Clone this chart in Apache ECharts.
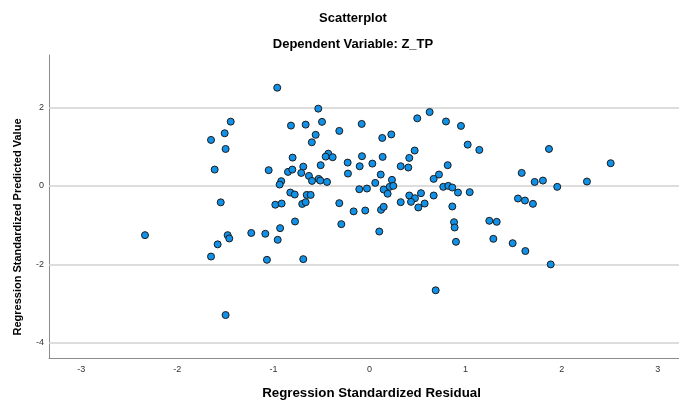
<!DOCTYPE html>
<html>
<head>
<meta charset="utf-8">
<script src="https://cdn.jsdelivr.net/npm/echarts@6/dist/echarts.min.js"></script>
<style>
html,body{margin:0;padding:0;background:#fff;}
#chart{width:679px;height:401px;}
</style>
</head>
<body>
<div id="chart"></div>
<script>
// Regression Standardized Residual (x) and Predicted Value (y)
const residuals = [
  -0.96,-1.444,-1.507,-1.649,-1.497,-1.611,-1.049,-1.548,-0.98,
  -0.533,-0.817,-0.664,-0.494,-0.314,-0.081,-0.56,-0.60,0.133,0.227,0.497,0.626,0.796,0.952,
  -0.80,-0.429,-0.456,-0.383,-0.508,-0.227,-0.224,-0.078,-0.102,0.03,0.137,0.117,0.47,0.414,0.325,0.404,0.814,0.723,0.668,
  -0.848,-0.803,-0.689,-0.71,-0.63,-0.598,-0.529,-0.512,-0.442,-0.918,-0.935,0.06,0.234,0.21,0.248,0.148,0.189,-0.106,-0.026,
  0.768,0.82,0.862,0.921,-0.824,-0.778,-0.653,-0.612,-0.914,-0.70,-0.664,-0.314,-0.165,-0.044,0.12,0.148,0.325,0.414,0.473,
  0.432,0.536,0.508,0.574,0.668,0.862,-0.93,-0.775,-0.293,0.88,0.886,
  1.022,1.143,1.868,2.51,1.584,1.719,1.805,1.954,2.263,1.043,1.545,1.618,1.701,1.247,1.324,
  -2.336,-1.476,-1.459,-1.58,-1.649,-1.23,-1.084,-0.955,-1.067,-1.497,
  -0.689,0.102,0.90,0.689,1.289,1.49,1.622,1.886
];
const predicted = [
  2.50,1.636,1.34,1.17,0.94,0.415,0.40,-0.42,-0.48,
  1.967,1.535,1.56,1.63,1.40,1.578,1.30,1.11,1.22,1.31,1.72,1.88,1.64,1.527,
  0.72,0.82,0.745,0.73,0.527,0.593,0.313,0.755,0.50,0.567,0.738,0.288,0.90,0.712,0.50,0.467,0.527,0.288,0.178,
  0.356,0.415,0.49,0.33,0.254,0.127,0.178,0.135,0.10,0.12,0.033,0.076,0.153,-0.025,0.0,-0.093,-0.20,-0.085,-0.068,
  -0.025,0.0,-0.042,-0.17,-0.17,-0.22,-0.23,-0.23,-0.45,-0.46,-0.415,-0.44,-0.65,-0.628,-0.61,-0.534,-0.415,-0.246,-0.314,
  -0.407,-0.186,-0.55,-0.45,-0.246,-0.525,-1.077,-0.907,-0.975,-0.925,-1.06,
  1.05,0.916,0.94,0.577,0.33,0.10,0.135,-0.025,0.11,-0.16,-0.322,-0.373,-0.458,-0.89,-0.916,
  -1.255,-1.255,-1.34,-1.49,-1.80,-1.20,-1.22,-1.374,-1.883,-3.29,
  -1.866,-1.163,-1.425,-2.66,-1.349,-1.46,-1.66,-2.0
];
const xTicks = [-3,-2,-1,0,1,2,3];
const yTicks = [-4,-2,0,2];
const titleText = 'Scatterplot';
const subtitleText = 'Dependent Variable: Z_TP';
const xTitle = 'Regression Standardized Residual';
const yTitle = 'Regression Standardized Predicted Value';

const points = residuals.map((x, i) => [x, predicted[i]]);
const FONT = 'Liberation Sans, Arial, sans-serif';

const chart = echarts.init(document.getElementById('chart'), null, {renderer: 'canvas'});
chart.setOption({
  animation: false,
  backgroundColor: '#ffffff',
  title: [
    {text: titleText, left: 348, top: 7, textAlign: 'center',
     textStyle: {fontFamily: FONT, fontSize: 13, fontWeight: 'bold', color: '#000'}},
    {text: subtitleText, left: 348, top: 33, textAlign: 'center',
     textStyle: {fontFamily: FONT, fontSize: 13, fontWeight: 'bold', color: '#000'}}
  ],
  grid: {left: 49, right: 0, top: 55, bottom: 43, containLabel: false},
  xAxis: {
    type: 'value', min: -3.335, max: 3.221,
    axisLine: {show: true, onZero: false, lineStyle: {color: '#8c8c8c', width: 1}},
    axisTick: {show: false},
    splitLine: {show: false},
    axisLabel: {customValues: xTicks, fontFamily: FONT, fontSize: 9, color: '#333', margin: 7}
  },
  yAxis: {
    type: 'value', min: -4.384, max: 3.333,
    axisLine: {show: true, onZero: false, lineStyle: {color: '#8c8c8c', width: 1}},
    axisTick: {show: false},
    splitLine: {show: false},
    axisLabel: {customValues: yTicks, fontFamily: FONT, fontSize: 9, color: '#333', margin: 5}
  },
  graphic: [
    {type: 'text', x: 371.5, y: 393.5, style: {text: xTitle, fontFamily: FONT, fontSize: 13.3, fontWeight: 'bold', fill: '#000', textAlign: 'center', textVerticalAlign: 'middle'}},
    {type: 'text', x: 18, y: 227, rotation: Math.PI / 2, style: {text: yTitle, fontFamily: FONT, fontSize: 11, fontWeight: 'bold', fill: '#000', textAlign: 'center', textVerticalAlign: 'middle'}}
  ],
  series: [
    {
      type: 'scatter', data: [], z: 1, silent: true,
      markLine: {
        z: 1, silent: true, symbol: ['none', 'none'], label: {show: false},
        lineStyle: {color: '#d2d2d2', width: 1.5, type: 'solid'},
        data: yTicks.map(v => ({yAxis: v}))
      }
    },
    {
      type: 'scatter', z: 3, symbol: 'circle', symbolSize: 7,
      itemStyle: {color: '#1192e8', borderColor: '#1b1b1b', borderWidth: 1, opacity: 1},
      data: points
    }
  ]
});
</script>
</body>
</html>
